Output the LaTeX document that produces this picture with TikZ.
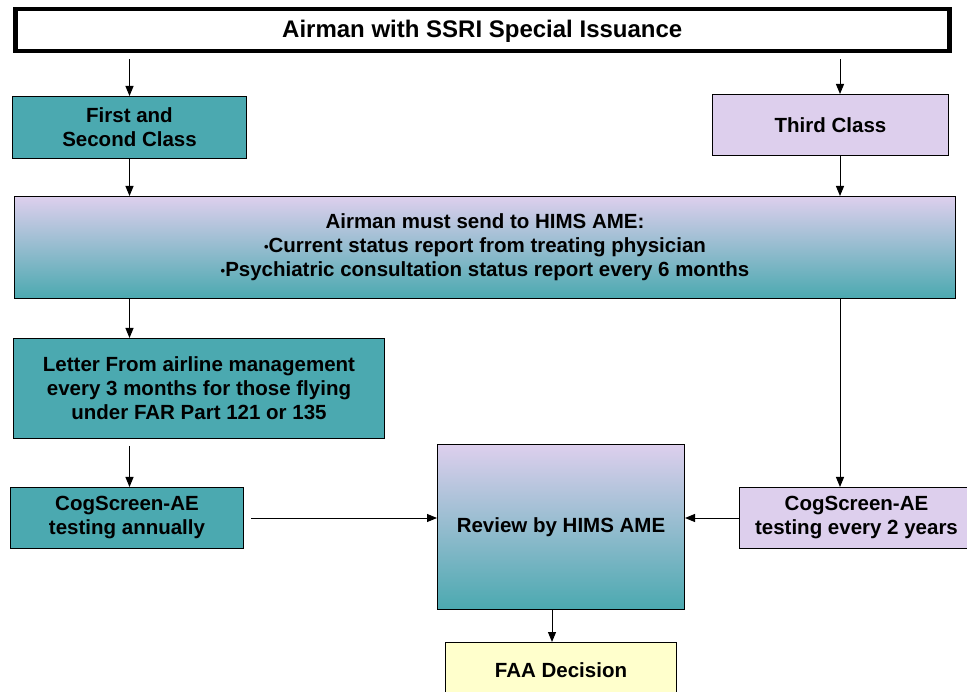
\documentclass[tikz,border=0pt]{standalone}
\usepackage{fontspec}
\setmainfont{Liberation Sans}
\usepackage{tikz}
\usetikzlibrary{positioning,arrows.meta}
\definecolor{tealbg}{RGB}{75,169,176}
\definecolor{lilac}{RGB}{221,207,237}
\definecolor{paleyellow}{RGB}{255,255,204}
\newcommand{\dotmark}{{\fontsize{13}{13}\selectfont\raisebox{1.5pt}{\textbullet}}}

\begin{document}
\begin{tikzpicture}[x=1pt, y=-1pt, >={Triangle[length=10pt,width=8pt]},
    box/.style={draw, line width=1pt, align=center, inner sep=0pt, anchor=north west,
                font=\fontsize{20.5}{24}\selectfont\bfseries},
    tealbox/.style={box, fill=tealbg},
    lilacbox/.style={box, fill=lilac},
    fadebox/.style={box, top color=lilac, bottom color=tealbg},
    link/.style={->, line width=1pt}]

    \useasboundingbox (0,0) rectangle (967,692);

    % Colonnes des flèches
    \coordinate (rcol) at (840,0);
    \coordinate (dcol) at (552,0);

    % =========================================================================
    % EN-TETE
    % =========================================================================
    \node[box, fill=white, line width=4.5pt, minimum width=934, minimum height=42,
          font=\fontsize{24}{28}\selectfont\bfseries, text depth=2pt] (title) at (13,7)
        {Airman with SSRI Special Issuance};

    % =========================================================================
    % CLASSES
    % =========================================================================
    \node[tealbox, minimum width=234, minimum height=62] (first) at (12,96)
        {First and\\Second Class};
    \node[lilacbox, minimum width=236, minimum height=61] (third) at (712,94)
        {Third Class};

    \draw[link, shorten <=6pt] (title.south -| first.north) -- (first.north);
    \draw[link, shorten <=6pt] (title.south -| rcol) -- (third.north -| rcol);

    % =========================================================================
    % RAPPORTS
    % =========================================================================
    \node[fadebox, minimum width=941, minimum height=102] (report) at (14,196)
        {Airman must send to HIMS AME:\\
         \dotmark Current status report from treating physician\\
         \dotmark Psychiatric consultation status report every 6 months};

    \draw[link] (first.south) -- (report.north -| first.south);
    \draw[link] (third.south -| rcol) -- (report.north -| rcol);

    \node[tealbox, minimum width=371, minimum height=100] (letter) at (13,338)
        {Letter From airline management\\every 3 months for those flying\\under FAR Part 121 or 135};

    \draw[link] (report.south -| first.south) -- (letter.north -| first.south);

    % =========================================================================
    % COGSCREEN
    % =========================================================================
    \node[tealbox, minimum width=233, minimum height=61] (cogone) at (10,487)
        {CogScreen-AE\\testing annually};
    \node[lilacbox, minimum width=234, minimum height=61] (cogtwo) at (739,487)
        {CogScreen-AE\\testing every 2 years};

    \draw[link, shorten <=7pt] (letter.south -| first.south) -- (cogone.north -| first.south);
    \draw[link] (report.south -| rcol) -- (cogtwo.north -| rcol);

    % =========================================================================
    % REVUE ET DECISION
    % =========================================================================
    \node[fadebox, minimum width=247, minimum height=165] (review) at (437,444)
        {Review by HIMS AME};
    \node[box, fill=paleyellow, minimum width=231, minimum height=56] (faa) at (445,642)
        {FAA Decision};

    \draw[link, shorten <=7pt] (cogone.east) -- (review.west |- cogone.east);
    \draw[link] (cogtwo.west) -- (review.east |- cogtwo.west);
    \draw[link] (review.south -| dcol) -- (faa.north -| dcol);
\end{tikzpicture}
\end{document}
